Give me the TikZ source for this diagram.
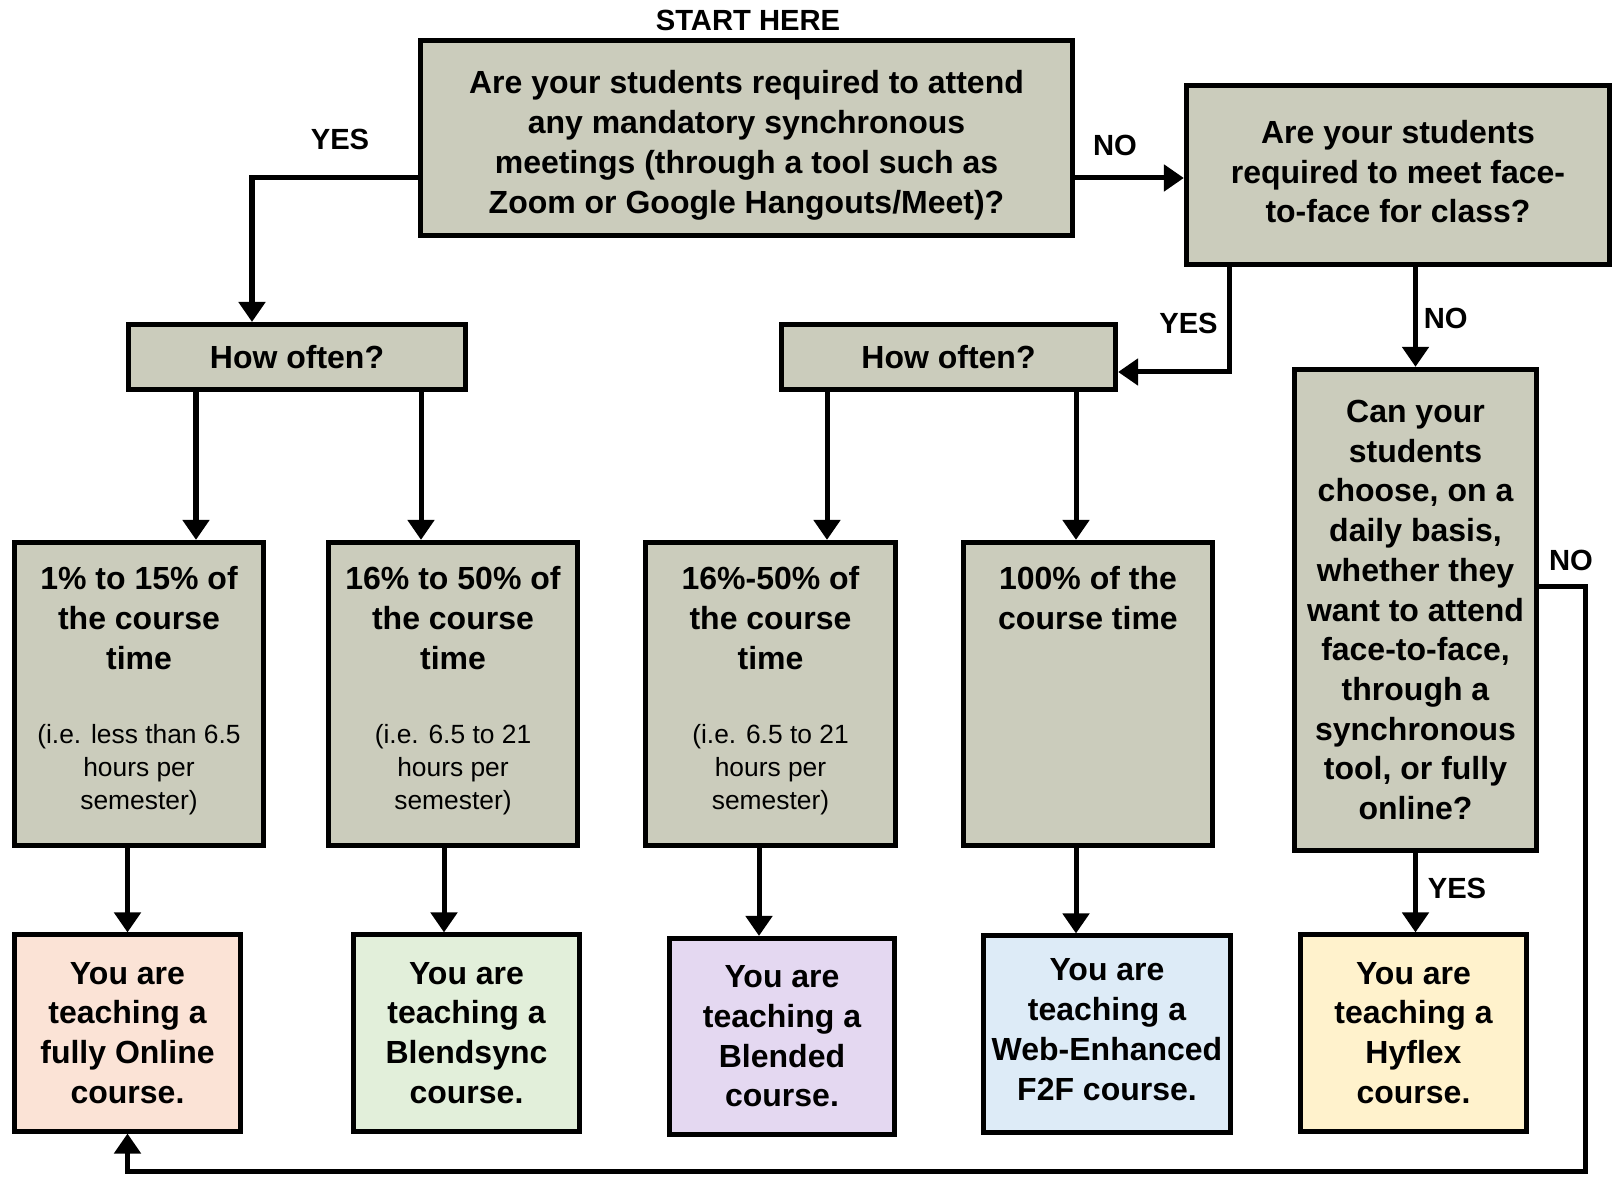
\documentclass[tikz,border=0pt]{standalone}
\usepackage{fontspec}
\setmainfont{Liberation Sans}
\usetikzlibrary{arrows.meta,positioning}

\definecolor{qgray}{HTML}{CBCCBC}
\definecolor{onlinec}{HTML}{FBE3D6}
\definecolor{blendsyncc}{HTML}{E2EFDA}
\definecolor{blendedc}{HTML}{E4D8F1}
\definecolor{webc}{HTML}{DDEBF7}
\definecolor{hyflexc}{HTML}{FFF2CC}

\tikzset{
    question/.style={draw, fill=qgray, line width=0.05cm, inner sep=0pt, align=center,
        font=\bfseries\fontsize{9.1}{11.3}\selectfont},
    result/.style={question, minimum width=2.25cm, minimum height=1.96cm},
    share/.style={inner sep=0pt, align=center, font=\bfseries\fontsize{9.1}{11.3}\selectfont},
    hours/.style={inner sep=0pt, align=center, font=\fontsize{7.5}{9.3}\selectfont},
    answer/.style={inner sep=0pt, font=\bfseries\fontsize{8.3}{10}\selectfont},
    conn/.style={->, line width=0.05cm},
}

\begin{document}
\begin{tikzpicture}[x=0.01cm,y=-0.01cm,>={Triangle[length=0.2cm,width=0.26cm]}]
    \useasboundingbox (0,0) rectangle (1614,1177);

    \node[answer] (start) at (748,20) {START HERE};
    \node[question, minimum width=6.52cm, minimum height=1.95cm] (meet) at (746.5,138)
        {\rule{0pt}{10.8pt}Are your students required to attend\\any mandatory synchronous\\meetings (through a tool such as\\Zoom or Google Hangouts/Meet)?};
    \node[question, minimum width=4.23cm, minimum height=1.79cm] (f2f) at (1398,175)
        {Are your students\\required to meet face-\\to-face for class?\rule[-2pt]{0pt}{0pt}};
    \node[question, minimum width=3.37cm, minimum height=0.65cm] (often1) at (297,357) {How often?};
    \node[question, minimum width=3.34cm, minimum height=0.64cm] (often2) at (948.5,357) {How often?};
    \node[question, minimum width=2.42cm, minimum height=4.81cm] (choose) at (1415.5,610)
        {Can your\\students\\choose, on a\\daily basis,\\whether they\\want to attend\\face-to-face,\\through a\\synchronous\\tool, or fully\\online?};

    % share of course time
    \foreach \n/\x in {d1/139, d2/453, d3/770.5, d4/1088}{
        \node[question, minimum width=2.49cm, minimum height=3.03cm] (\n) at (\x,694) {};
    }
    \node[share, below=0.26cm of d1.north] (d1top) {1\% to 15\% of\\the course\\time};
    \node[hours, below=1.84cm of d1.north] (d1low) {(i.e. less than 6.5\\hours per\\semester)};
    \node[share, below=0.26cm of d2.north] (d2top) {16\% to 50\% of\\the course\\time};
    \node[hours, below=1.84cm of d2.north] (d2low) {(i.e. 6.5 to 21\\hours per\\semester)};
    \node[share, below=0.26cm of d3.north] (d3top) {16\%-50\% of\\the course\\time};
    \node[hours, below=1.84cm of d3.north] (d3low) {(i.e. 6.5 to 21\\hours per\\semester)};
    \node[share, below=0.26cm of d4.north] (d4top) {100\% of the\\course time};

    % course types
    \node[result, fill=onlinec] (online) at (127.5,1033) {You are\\teaching a\\fully Online\\course.};
    \node[result, fill=blendsyncc] (blendsync) at (466.5,1033) {You are\\teaching a\\Blendsync\\course.};
    \node[result, fill=blendedc] (blended) at (782,1036.5) {You are\\teaching a\\Blended\\course.};
    \node[result, fill=webc, minimum width=2.47cm] (webf2f) at (1107,1034) {You are\\teaching a\\Web-Enhanced\\F2F course.\rule[-2.5pt]{0pt}{0pt}};
    \node[result, fill=hyflexc] (hyflex) at (1413.5,1033) {You are\\teaching a\\Hyflex\\course.};

    \node[answer] (yes1) at (340,139) {YES};
    \node[answer] (no1) at (1115,145) {NO};
    \node[answer] (yes2) at (1188.5,323) {YES};
    \node[answer] (no2) at (1445.7,318) {NO};
    \node[answer] (no3) at (1571,560) {NO};
    \node[answer] (yes3) at (1457,888) {YES};

    \coordinate (yline) at (0,178);
    \coordinate (yesx) at (252,0);
    \coordinate (f2fyes) at (1229,372);
    \coordinate (loopy) at (0,587);
    \coordinate (loopr) at (1585,1172);
    \coordinate (c1) at (196,0);
    \coordinate (c2) at (421,0);
    \coordinate (c3) at (827,0);
    \coordinate (c4) at (1076,0);
    \coordinate (c5) at (444,0);
    \coordinate (c6) at (759,0);

    \draw[conn] (meet.east |- yline) -- (f2f.west |- yline);
    \draw[conn] (meet.west |- yline) -| (often1.north -| yesx);
    \draw[conn] (f2f.south -| f2fyes) |- (often2.east |- f2fyes);
    \draw[conn] (f2f.south -| choose.north) -- (choose.north);
    \foreach \a/\b/\c in {often1/d1/c1, often1/d2/c2, often2/d3/c3, often2/d4/c4}{
        \draw[conn] (\a.south -| \c) -- (\b.north -| \c);
    }
    \foreach \a/\b/\c in {d1/online/online, d2/blendsync/c5, d3/blended/c6, d4/webf2f/c4}{
        \draw[conn] (\a.south -| \c) -- (\b.north -| \c);
    }
    \draw[conn] (choose.south) -- (hyflex.north -| choose.south);
    \draw[conn] (choose.east |- loopy) -| (loopr) -| (online.south);
\end{tikzpicture}
\end{document}
